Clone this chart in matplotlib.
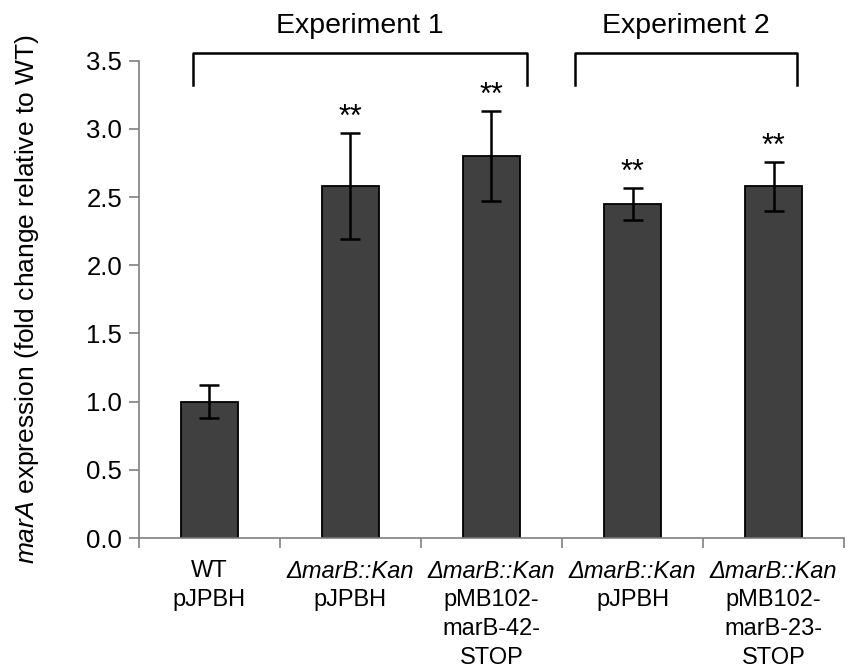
import matplotlib
matplotlib.use('Agg')
import matplotlib.pyplot as plt
import matplotlib.transforms as mtransforms

plt.rcParams['font.family'] = ['Liberation Sans', 'DejaVu Sans']
plt.rcParams['mathtext.fontset'] = 'custom'
plt.rcParams['mathtext.it'] = 'Liberation Sans:italic'
plt.rcParams['mathtext.rm'] = 'Liberation Sans'

# data
strain_lines = ['WT', 'ΔmarB::Kan', 'ΔmarB::Kan', 'ΔmarB::Kan', 'ΔmarB::Kan']
plasmid_lines = [['pJPBH'], ['pJPBH'], ['pMB102-', 'marB-42-', 'STOP'], ['pJPBH'], ['pMB102-', 'marB-23-', 'STOP']]
fold_change = [1.0, 2.58, 2.80, 2.45, 2.58]
err = [0.12, 0.39, 0.33, 0.12, 0.18]
signif = ['', '**', '**', '**', '**']
groups = ['Experiment 1', 'Experiment 2']
group_span = [(-0.12, 2.25), (2.59, 4.17)]

fig = plt.figure(figsize=(8.66, 6.71), dpi=100)
ax = fig.add_axes([0.1605, 0.1982, 0.8141, 0.7113])

x = list(range(len(fold_change)))
ax.bar(x, fold_change, width=0.41, color='#404040', edgecolor='black', linewidth=1.3, zorder=2)
ax.errorbar(x, fold_change, yerr=err, fmt='none', ecolor='black', elinewidth=1.8,
            capsize=7, capthick=1.8, zorder=3)

for i, s in enumerate(signif):
    if s:
        ax.annotate(s, (i, fold_change[i] + err[i]), xytext=(0, 5), textcoords='offset points',
                    ha='center', va='baseline', fontsize=22)

ax.set_xlim(-0.5, 4.5)
ax.set_ylim(0, 3.5)
ax.set_yticks([0, 0.5, 1.0, 1.5, 2.0, 2.5, 3.0, 3.5])
ax.set_yticklabels(['%.1f' % v for v in ax.get_yticks()], fontsize=18.5)
ax.set_xticks([i - 0.5 for i in range(6)])
ax.set_xticklabels([])
ax.tick_params(axis='x', direction='out', length=7, color='#808080', width=1.2)
ax.tick_params(axis='y', direction='out', length=7, color='#808080', width=1.2, pad=5)
for side in ['top', 'right']:
    ax.spines[side].set_visible(False)
for side in ['left', 'bottom']:
    ax.spines[side].set_color('#808080')
    ax.spines[side].set_linewidth(1.2)

ax.set_ylabel(r'$\it{marA}$ expression (fold change relative to WT)', fontsize=19)
ax.yaxis.label.set_va('center')
ax.yaxis.set_label_coords(-0.159, 0.5)

# category labels below axis
trans = mtransforms.blended_transform_factory(ax.transData, ax.transAxes)
for i in x:
    ax.annotate(strain_lines[i], (i, 0), xycoords=trans, xytext=(0, -24), textcoords='offset points',
                ha='center', va='center', fontsize=17, style='normal' if i == 0 else 'italic')
    for j, line in enumerate(plasmid_lines[i]):
        ax.annotate(line, (i, 0), xycoords=trans, xytext=(0, -24 - 20.8 * (j + 1)),
                    textcoords='offset points', ha='center', va='center', fontsize=17)

# experiment brackets
for g, (a, b) in zip(groups, group_span):
    ax.plot([a, a, b, b], [3.32, 3.56, 3.56, 3.32], color='black', lw=1.8, clip_on=False)
    ax.text((a + b) / 2, 3.70, g, ha='center', va='baseline', fontsize=20.5)

fig.savefig('out.png', dpi=100)
